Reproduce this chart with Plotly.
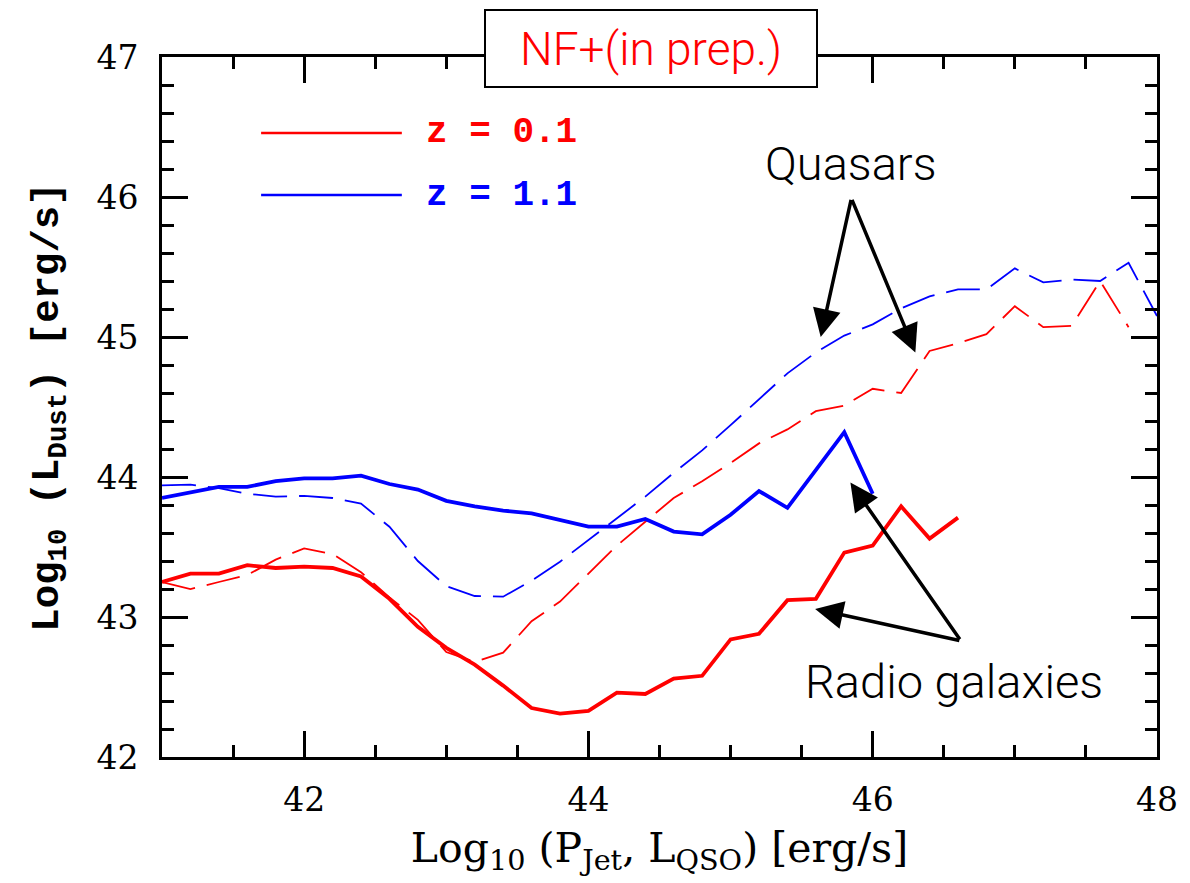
import plotly.graph_objects as go

# ---------------- data ----------------
x_grid = [41.0 + 0.2 * i for i in range(36)]  # 41.0 ... 48.0

# z = 0.1, radio galaxies (solid red)
red_solid_x = x_grid[:29]
red_solid_y = [43.25, 43.31, 43.31, 43.37, 43.35, 43.36, 43.35, 43.29, 43.13, 42.93,
               42.78, 42.66, 42.51, 42.35, 42.31, 42.33, 42.46, 42.45, 42.56, 42.58,
               42.84, 42.88, 43.12, 43.13, 43.46, 43.51, 43.79, 43.56, 43.71]

# z = 0.1, quasars (dashed red)
red_dash_x = x_grid[:35]
red_dash_y = [43.25, 43.20, 43.25, 43.30, 43.41, 43.49, 43.45, 43.32, 43.14, 42.98,
              42.75, 42.68, 42.745, 42.97, 43.11, 43.31, 43.51, 43.68, 43.85, 43.97,
              44.10, 44.24, 44.34, 44.47, 44.51, 44.63, 44.60, 44.90, 44.955, 45.02,
              45.22, 45.07, 45.08, 45.40, 45.07]

# z = 1.1, radio galaxies (solid blue)
blue_solid_x = x_grid[:26]
blue_solid_y = [43.85, 43.89, 43.93, 43.93, 43.97, 43.99, 43.99, 44.01, 43.95, 43.91,
                43.83, 43.79, 43.76, 43.74, 43.69, 43.645, 43.645, 43.70, 43.61, 43.59,
                43.73, 43.90, 43.78, 44.05, 44.32, 43.88]

# z = 1.1, quasars (dashed blue)
blue_dash_x = x_grid[:36]
blue_dash_y = [43.94, 43.945, 43.92, 43.88, 43.86, 43.865, 43.85, 43.81, 43.645, 43.40,
               43.22, 43.15, 43.145, 43.26, 43.395, 43.55, 43.705, 43.86, 44.03, 44.19,
               44.37, 44.555, 44.74, 44.89, 45.01, 45.09, 45.205, 45.29, 45.34, 45.34,
               45.49, 45.39, 45.41, 45.40, 45.53, 45.15]

legend_labels = ["z = 0.1", "z = 1.1"]
x_ticks = [42, 44, 46, 48]
y_ticks = [42, 43, 44, 45, 46, 47]

RED = "#ff0000"
BLUE = "#0000ff"

fig = go.Figure()
fig.add_trace(go.Scatter(x=red_dash_x, y=red_dash_y, mode="lines",
                         line=dict(color=RED, width=1.8, dash="34px,12px"), showlegend=False))
fig.add_trace(go.Scatter(x=blue_dash_x, y=blue_dash_y, mode="lines",
                         line=dict(color=BLUE, width=1.8, dash="34px,12px"), showlegend=False))
fig.add_trace(go.Scatter(x=red_solid_x, y=red_solid_y, mode="lines",
                         line=dict(color=RED, width=3.8), showlegend=False))
fig.add_trace(go.Scatter(x=blue_solid_x, y=blue_solid_y, mode="lines",
                         line=dict(color=BLUE, width=3.8), showlegend=False))

axis_common = dict(
    showline=True, linewidth=3, linecolor="black", mirror="allticks",
    ticks="inside", tickwidth=3, tickcolor="black", ticklen=26,
    showgrid=False, zeroline=False,
    tickfont=dict(family="DejaVu Serif", size=33, color="black"),
)

fig.update_xaxes(range=[41, 48], tickvals=x_ticks, ticktext=[str(v) for v in x_ticks],
                 minor=dict(dtick=0.5, tick0=41, ticks="inside", ticklen=12, tickwidth=3,
                            tickcolor="black", showgrid=False),
                 ticklabelstandoff=11,
                 title=dict(text="Log<sub>10</sub> (P<sub>Jet</sub>, L<sub>QSO</sub>) [erg/s]",
                            font=dict(family="DejaVu Serif", size=41, color="black"),
                            standoff=16),
                 **axis_common)
fig.update_yaxes(range=[42, 47], tickvals=y_ticks, ticktext=[str(v) for v in y_ticks],
                 minor=dict(dtick=0.2, tick0=42, ticks="inside", ticklen=12, tickwidth=3,
                            tickcolor="black", showgrid=False),
                 ticklabelstandoff=14,
                 title=dict(text="Log<sub>10</sub> (L<sub>Dust</sub>) [erg/s]",
                            font=dict(family="Liberation Mono", size=39, color="black", weight="bold"),
                            standoff=26),
                 **axis_common)

PW, PH = 1004, 700  # plot area size in px
def px2paper(px, py):
    return (px - 162) / PW, (757 - py) / PH

shapes = []
annotations = []
# legend
for i, (lab, col) in enumerate(zip(legend_labels, [RED, BLUE])):
    yy = [133, 195][i]
    x0, yp = px2paper(262, yy)
    x1, _ = px2paper(404, yy)
    shapes.append(dict(type="line", xref="paper", yref="paper", x0=x0, x1=x1, y0=yp, y1=yp,
                       line=dict(color=col, width=2.5)))
    xt, _ = px2paper(426, yy)
    annotations.append(dict(xref="paper", yref="paper", x=xt, y=yp, xanchor="left", yanchor="middle",
                            text=lab, showarrow=False,
                            font=dict(family="Liberation Mono", size=36, color=col, weight="bold")))

# title box
tx, ty = px2paper(655, 48.5)
annotations.append(dict(xref="paper", yref="paper", x=tx, y=ty, xanchor="center", yanchor="middle",
                        text="NF+(in prep.)", showarrow=False, bgcolor="white",
                        bordercolor="black", borderwidth=2, borderpad=2, width=326, height=71,
                        font=dict(family="Roboto", size=46, color=RED, weight=300)))

# label texts
qx, qy = px2paper(857, 163)
annotations.append(dict(xref="paper", yref="paper", x=qx, y=qy, xanchor="center", yanchor="middle",
                        text="Quasars", showarrow=False,
                        font=dict(family="Roboto", size=47, color="black", weight=300)))
rx, ry = px2paper(961, 681)
annotations.append(dict(xref="paper", yref="paper", x=rx, y=ry, xanchor="center", yanchor="middle",
                        text="Radio galaxies", showarrow=False,
                        font=dict(family="Roboto", size=47, color="black", weight=300)))

# arrows (tail -> head), data coordinates
arrows = [
    ((45.85, 45.99), (45.634, 45.00)),
    ((45.85, 45.99), (46.30, 44.89)),
    ((46.62, 42.83), (45.843, 43.96)),
    ((46.62, 42.83), (45.595, 43.057)),
]
for (tx0, ty0), (hx, hy) in arrows:
    annotations.append(dict(x=hx, y=hy, ax=tx0, ay=ty0, xref="x", yref="y", axref="x", ayref="y",
                            text="", showarrow=True, arrowhead=2, arrowsize=1.6, arrowwidth=3.5,
                            arrowcolor="black", standoff=0, startstandoff=0))

fig.update_layout(
    width=1190, height=883,
    margin=dict(l=162, r=24, t=57, b=126),
    paper_bgcolor="white", plot_bgcolor="white",
    shapes=shapes, annotations=annotations,
    showlegend=False,
)

fig.write_html("out.html")
